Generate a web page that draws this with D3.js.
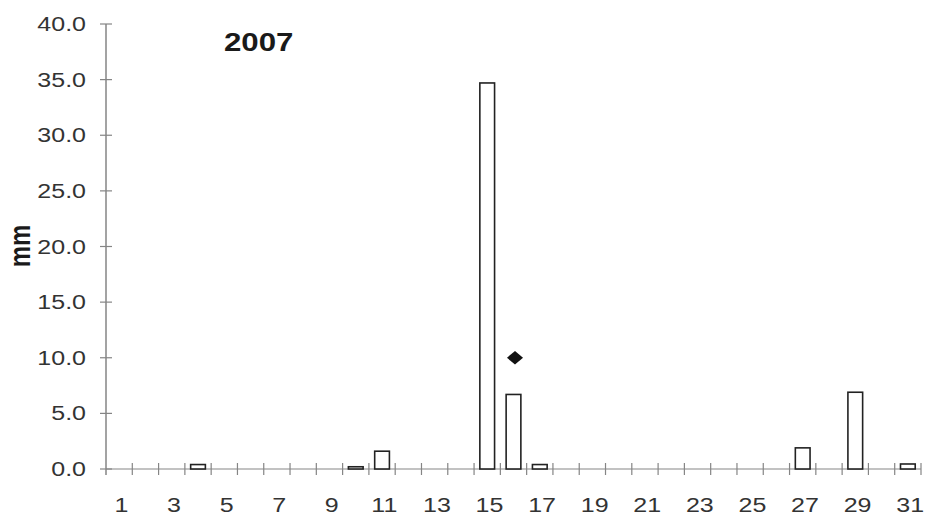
<!DOCTYPE html>
<html>
<head>
<meta charset="utf-8">
<script src="https://cdn.jsdelivr.net/npm/d3@7"></script>
<style>
  body { margin: 0; background: #fff; }
  svg { display: block; font-family: "Liberation Sans", Arial, sans-serif; }
</style>
</head>
<body>
<div id="chart"></div>
<script>
// daily rainfall, mm
const days = d3.range(1, 32)
const rain = [0, 0, 0, 0.4, 0, 0, 0, 0, 0, 0.2, 1.6, 0, 0, 0, 34.7, 6.7, 0.4,
  0, 0, 0, 0, 0, 0, 0, 0, 0, 1.9, 0, 6.9, 0, 0.45]
const markDays = [16]
const markValues = [10.0]
const yTicks = [0, 5, 10, 15, 20, 25, 30, 35, 40]
const xLabels = days.filter(d => d % 2 === 1)

const width = 925, height = 521
const stretch = 1.25 // the scan is wider than tall, text looks stretched

const svg = d3.select("#chart").append("svg")
  .attr("width", width).attr("height", height)

const x = d3.scaleBand().domain(days).range([106, 921]).padding(0)
const y = d3.scaleLinear().domain([0, 40]).range([469, 24])

const axisColor = "#858585"

// y axis
svg.append("line")
  .attr("x1", x.range()[0]).attr("x2", x.range()[0])
  .attr("y1", y(0) + 6).attr("y2", y(40))
  .attr("stroke", axisColor).attr("stroke-width", 1.5)
svg.append("g").selectAll("line").data(yTicks).join("line")
  .attr("x1", x.range()[0] - 6).attr("x2", x.range()[0] + 6)
  .attr("y1", d => y(d)).attr("y2", d => y(d))
  .attr("stroke", axisColor).attr("stroke-width", 1.2)
svg.append("g").selectAll("text").data(yTicks).join("text")
  .attr("transform", d => `translate(86,${y(d)})scale(${stretch},1)`)
  .attr("dy", "0.35em")
  .attr("text-anchor", "end")
  .attr("font-size", 20)
  .attr("fill", "#333")
  .text(d => d.toFixed(1))

// x axis
svg.append("line")
  .attr("x1", x.range()[0]).attr("x2", x.range()[1])
  .attr("y1", y(0)).attr("y2", y(0))
  .attr("stroke", axisColor).attr("stroke-width", 1.2)
svg.append("g").selectAll("line").data(days).join("line")
  .attr("x1", d => x(d) + x.bandwidth()).attr("x2", d => x(d) + x.bandwidth())
  .attr("y1", y(0) - 6).attr("y2", y(0) + 6)
  .attr("stroke", axisColor).attr("stroke-width", 1.2)
svg.append("g").selectAll("text").data(xLabels).join("text")
  .attr("transform", d => `translate(${x(d) + x.bandwidth() / 2 + 2.3},512)scale(${stretch},1)`)
  .attr("text-anchor", "middle")
  .attr("font-size", 20)
  .attr("fill", "#333")
  .text(d => d)

// bars
const bw = x.bandwidth() * 0.56
svg.append("g").selectAll("rect")
  .data(days.map((d, i) => ({ d, v: rain[i] })).filter(o => o.v > 0))
  .join("rect")
  .attr("x", o => x(o.d) + (x.bandwidth() - bw) / 2)
  .attr("y", o => y(o.v))
  .attr("width", bw)
  .attr("height", o => y(0) - y(o.v))
  .attr("fill", "#fff")
  .attr("stroke", "#222")
  .attr("stroke-width", 1.6)

// marker points
svg.append("g").selectAll("path")
  .data(markDays.map((d, i) => ({ d, v: markValues[i] })))
  .join("path")
  .attr("d", d3.symbol(d3.symbolDiamond2, 120))
  .attr("transform", o => `translate(${x(o.d) + x.bandwidth() / 2 + 1.5},${y(o.v)})scale(1.17,1)`)
  .attr("fill", "#111")

// title and axis label
svg.append("text")
  .attr("transform", `translate(224,51)scale(${stretch},1)`)
  .attr("font-size", 25).attr("font-weight", "bold")
  .attr("fill", "#1a1a1a")
  .text("2007")
svg.append("text")
  .attr("transform", `translate(30,246)scale(${stretch},1)rotate(-90)`)
  .attr("text-anchor", "middle")
  .attr("font-size", 24).attr("font-weight", "bold")
  .attr("fill", "#1a1a1a")
  .text("mm")
</script>
</body>
</html>
